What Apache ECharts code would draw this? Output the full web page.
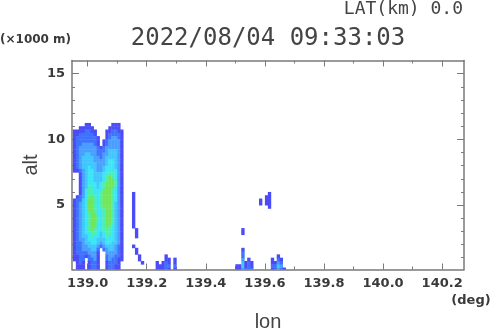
<!DOCTYPE html>
<html><head><meta charset="utf-8">
<script src="https://cdn.jsdelivr.net/npm/echarts@6/dist/echarts.min.js"></script>
<style>html,body{margin:0;padding:0;background:#fff}#c{width:490px;height:331px}</style>
</head><body><div id="c"></div>
<script>
const lonMin = 138.947, lonMax = 140.274, altMin = 0.1, altMax = 16.0;
const lonMajorTicks = [139.0, 139.2, 139.4, 139.6, 139.8, 140.0, 140.2];
const lonMinorTicks = [139.1, 139.3, 139.5, 139.7, 139.9, 140.1];
const altMajorTicks = [5, 10, 15];
const altMinorTicks = [1, 2, 3, 4, 6, 7, 8, 9, 11, 12, 13, 14];
const titleText = '2022/08/04 09:33:03';
const latText = 'LAT(km) 0.0';

// reflectivity level grid of the main echo: lon 138.95 + 0.01*col, alt rows of 0.25 km (first row: 11.25-11.5 km)
const cellLonStart = 138.95, cellLonStep = 0.01, cellAltStep = 0.25;
const mainRows = [
  "000000000000000000",
  "000011000000011100",
  "001111100000111100",
  "111122110001122110",
  "112222210001222210",
  "122222221001233210",
  "122222221012333310",
  "122333321012333310",
  "123333332123333310",
  "123333332223444310",
  "123344332233444310",
  "123444433234444310",
  "123444433334554310",
  "123444443334554310",
  "123445443345554310",
  "112345543345555310",
  "001345544455665310",
  "001345544456765310",
  "001345544456776310",
  "001345554567776310",
  "001346554567775310",
  "001356655577765310",
  "001356655677765310",
  "012356765677765310",
  "122457765677765310",
  "123457765677764310",
  "123457765677764310",
  "123457765567764310",
  "123456775567764310",
  "123456775567764310",
  "123456776567764310",
  "123456775567764310",
  "123456775567654310",
  "123456765566654310",
  "123455665456654310",
  "123445655456554310",
  "123345554445554310",
  "122344554345544310",
  "122334443234443210",
  "122333442023443210",
  "122223331003333210",
  "112212331002332210",
  "112202231002322110",
  "012101221001222100",
  "011101221001221100",
  "011101221001221100"
];
// small isolated echoes as vertical runs: [lon, alt from (km), alt to (km), level]
const extraRuns = [
  [139.15,3.25,6.0,1],[139.16,2.5,3.25,1],
  [139.15,1.75,2.0,1],[139.16,1.25,1.75,1],[139.17,0.75,1.25,1],[139.18,0.5,0.75,1],
  [139.23,0,0.75,1],[139.24,0,0.5,1],
  [139.25,0,0.75,1],[139.26,0,0.75,2],[139.26,0.75,1.25,1],
  [139.27,0,0.25,1],[139.27,0.25,0.5,2],[139.27,0.5,1.0,1],
  [139.29,0,0.25,1],[139.29,0.25,0.5,2],[139.29,0.5,1.0,1],
  [139.50,0,0.5,1],[139.51,0,0.5,1],
  [139.52,0,0.25,3],[139.52,0.25,0.75,4],[139.52,0.75,1.0,3],[139.52,1.0,1.5,2],[139.52,1.5,1.75,1],
  [139.52,2.75,3.25,1],
  [139.53,0,0.25,2],[139.53,0.25,0.75,1],
  [139.54,0,0.75,2],[139.54,0.75,1.0,1],
  [139.55,0,0.25,2],[139.55,0.25,0.75,1],
  [139.58,5.0,5.5,1],
  [139.60,5.0,5.75,1],[139.61,4.75,6.0,1],
  [139.62,0,0.25,1],[139.62,0.25,0.5,2],[139.62,0.5,1.0,1],
  [139.63,0,0.5,2],[139.63,0.5,0.75,1],
  [139.64,0,0.25,3],[139.64,0.25,0.5,4],[139.64,0.5,0.75,3],[139.64,0.75,1.0,2],[139.64,1.0,1.25,1],
  [139.65,0,0.25,2],[139.65,0.25,0.5,3],[139.65,0.5,0.75,2],[139.65,0.75,1.0,1],
  [139.66,0,0.25,1]
];
const levelColors = ['none','#4b4bf7','#3f72ff','#4a9eff','#42c6ff','#3ce6f2','#4cf0ac','#72e65a'];

// build [lon0, lon1, alt0, alt1, level] rectangles
const cells = [];
mainRows.forEach((row, r) => {
  const altBase = (mainRows.length - 1 - r) * cellAltStep;
  for (let c = 0; c < row.length; c++) {
    const lev = +row[c];
    if (lev > 0) {
      const lon = cellLonStart + c * cellLonStep;
      cells.push([lon, lon + cellLonStep, altBase, altBase + cellAltStep, lev]);
    }
  }
});
extraRuns.forEach(e => cells.push([e[0], e[0] + cellLonStep, e[1], e[2], e[3]]));

const chart = echarts.init(document.getElementById('c'), null, {renderer: 'canvas'});
const frameColor = '#7a7a7a';
const labelFont = {fontFamily: 'DejaVu Sans', fontWeight: 'bold', fontSize: 13, color: '#3a3a3a'};
function xAx(pos, ticks, len, showLine, labels) {
  return {type: 'value', position: pos, min: lonMin, max: lonMax, gridIndex: 0,
    axisLine: {show: showLine, onZero: false, lineStyle: {color: frameColor, width: 1.5}},
    axisTick: {show: true, inside: true, length: len, customValues: ticks, lineStyle: {color: frameColor, width: 1}},
    axisLabel: labels ? Object.assign({show: true, customValues: ticks, margin: 8, formatter: v => v.toFixed(1)}, labelFont) : {show: false},
    splitLine: {show: false}};
}
function yAx(pos, ticks, len, showLine, labels) {
  return {type: 'value', position: pos, min: altMin, max: altMax, gridIndex: 0,
    axisLine: {show: showLine, onZero: false, lineStyle: {color: frameColor, width: 1.5}},
    axisTick: {show: true, inside: true, length: len, customValues: ticks, lineStyle: {color: frameColor, width: 1}},
    axisLabel: labels ? Object.assign({show: true, customValues: ticks, margin: 7, formatter: v => String(v)}, labelFont) : {show: false},
    splitLine: {show: false}};
}

chart.setOption({
  animation: false,
  backgroundColor: '#ffffff',
  grid: {left: 72, top: 60.5, width: 392, height: 209, containLabel: false},
  xAxis: [
    xAx('bottom', lonMajorTicks, 6, true, true),
    xAx('bottom', lonMinorTicks, 3, false, false),
    xAx('top', lonMajorTicks, 6, true, false),
    xAx('top', lonMinorTicks, 3, false, false)
  ],
  yAxis: [
    yAx('left', altMajorTicks, 7, true, true),
    yAx('left', altMinorTicks, 3, false, false),
    yAx('right', altMajorTicks, 7, true, false),
    yAx('right', altMinorTicks, 3, false, false)
  ],
  series: [{
    type: 'custom', xAxisIndex: 0, yAxisIndex: 0, z: 1,
    encode: {x: [0, 1], y: [2, 3]},
    data: cells,
    renderItem: function (params, api) {
      const lev = api.value(4);
      const p1 = api.coord([api.value(0), api.value(3)]);
      const p2 = api.coord([api.value(1), api.value(2)]);
      const shape = echarts.graphic.clipRectByRect(
        {x: p1[0], y: p1[1], width: p2[0] - p1[0] + 0.4, height: p2[1] - p1[1] + 0.4},
        {x: params.coordSys.x, y: params.coordSys.y, width: params.coordSys.width, height: params.coordSys.height});
      if (!shape) return null;
      return {type: 'rect', shape: shape, style: {fill: levelColors[lev], stroke: null}};
    }
  }],
  graphic: [
    {type: 'text', x: 463, y: 9, style: {text: latText, font: '18px "DejaVu Sans Mono"', fill: '#444', align: 'right', verticalAlign: 'middle'}},
    {type: 'text', x: 0, y: 39.5, style: {text: '(\u00d71000 m)', font: 'bold 12px "DejaVu Sans"', fill: '#3a3a3a', align: 'left', verticalAlign: 'middle'}},
    {type: 'text', x: 268, y: 38.5, style: {text: titleText, font: '24px "DejaVu Sans Mono"', fill: '#444', align: 'center', verticalAlign: 'middle'}},
    {type: 'text', x: 31, y: 165, rotation: Math.PI / 2, style: {text: 'alt', font: '20px "Liberation Sans"', fill: '#444', align: 'center', verticalAlign: 'middle'}},
    {type: 'text', x: 268, y: 322, style: {text: 'lon', font: '20px "Liberation Sans"', fill: '#444', align: 'center', verticalAlign: 'middle'}},
    {type: 'text', x: 471, y: 301, style: {text: '(deg)', font: 'bold 13px "DejaVu Sans"', fill: '#3a3a3a', align: 'center', verticalAlign: 'middle'}}
  ]
});
</script></body></html>
